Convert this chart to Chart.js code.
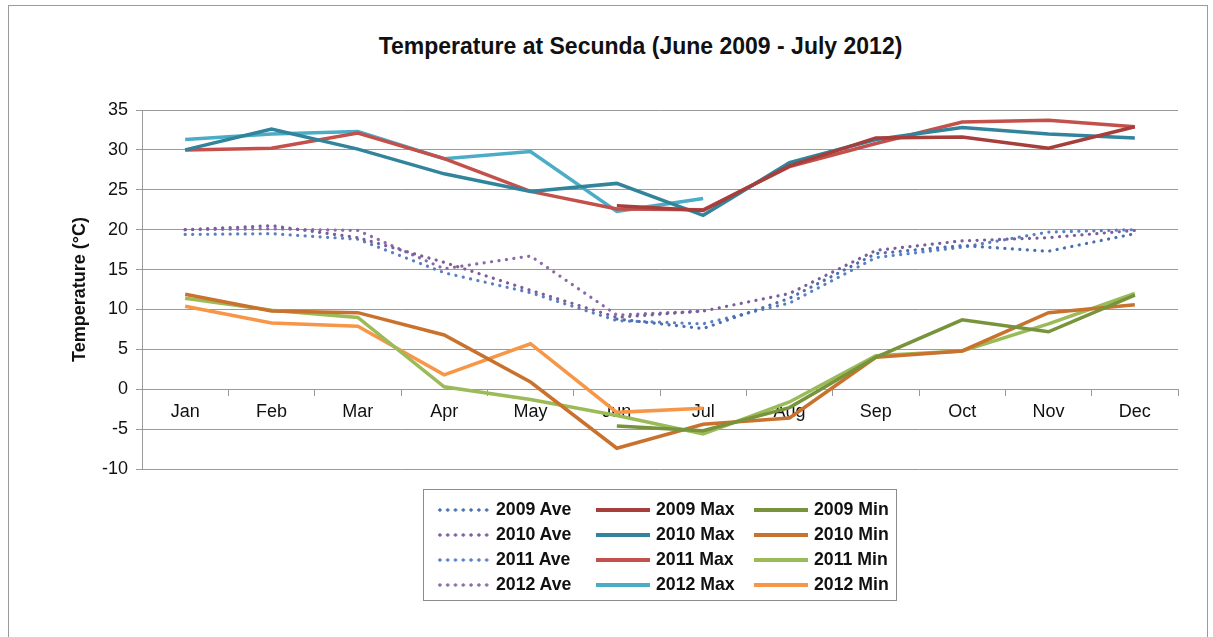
<!DOCTYPE html>
<html>
<head>
<meta charset="utf-8">
<title>Temperature at Secunda</title>
<script src="https://cdn.jsdelivr.net/npm/chart.js@4.4.1/dist/chart.umd.min.js"></script>
<style>
  html, body { margin: 0; padding: 0; background: #fff; }
  body { width: 1213px; height: 637px; position: relative; overflow: hidden; font-family: "Liberation Sans", Arial, sans-serif; }
  #frame { position: absolute; left: 8px; top: 5px; width: 1198px; height: 700px; border: 1px solid #9a9a9a; }
  #title { position: absolute; left: 0; width: 1281px; top: 33px; text-align: center; font-weight: bold; font-size: 23px; color: #111; }
  #chart { position: absolute; left: 0; top: 0; }
  #legend { position: absolute; left: 423px; top: 489px; width: 474px; height: 112px; border: 1px solid #8c8c8c; box-sizing: border-box; }
  .item { position: absolute; height: 25px; display: flex; align-items: center; font-weight: bold; font-size: 17.7px; color: #111; white-space: nowrap; }
  .sample { width: 54px; height: 4px; margin-right: 6px; }
</style>
</head>
<body>
<div id="frame"></div>
<div id="title">Temperature at Secunda (June 2009 - July 2012)</div>
<canvas id="chart" width="1213" height="637"></canvas>
<div id="legend"></div>

<script>
// ----- Data -----
const months = ['Jan','Feb','Mar','Apr','May','Jun','Jul','Aug','Sep','Oct','Nov','Dec'];
const yTicks = { min: -10, max: 35, step: 5 };

const ave2009 = [null, null, null, null, null, 8.8, 7.6, 11.4, 17.0, 18.0, 17.3, 19.5];
const ave2010 = [20.0, 20.5, 19.0, 15.9, 12.4, 9.0, 9.8, 12.0, 17.4, 18.6, 19.0, 19.9];
const ave2011 = [19.4, 19.5, 18.8, 14.6, 12.1, 8.6, 8.2, 10.8, 16.5, 17.8, 19.7, 20.0];
const ave2012 = [20.0, 20.1, 19.9, 15.1, 16.7, 9.3, 9.8, null, null, null, null, null];

const max2009 = [null, null, null, null, null, 23.0, 22.4, 28.0, 31.5, 31.6, 30.2, 32.9];
const max2010 = [30.0, 32.6, 30.1, 27.0, 24.8, 25.8, 21.8, 28.4, 31.3, 32.8, 32.0, 31.5];
const max2011 = [30.0, 30.2, 32.1, 28.9, 24.8, 22.6, 22.5, 27.9, 30.8, 33.5, 33.7, 32.9];
const max2012 = [31.3, 32.0, 32.3, 28.9, 29.8, 22.3, 23.9, null, null, null, null, null];

const min2009 = [null, null, null, null, null, -4.6, -5.2, -2.3, 4.0, 8.7, 7.2, 11.8];
const min2010 = [11.9, 9.8, 9.6, 6.8, 0.9, -7.4, -4.4, -3.6, 4.0, 4.8, 9.6, 10.6];
const min2011 = [11.4, 9.9, 9.0, 0.3, -1.3, -3.3, -5.6, -1.6, 4.2, 4.8, 8.2, 12.0];
const min2012 = [10.4, 8.3, 7.9, 1.8, 5.7, -2.9, -2.4, null, null, null, null, null];

// ----- Series styles -----
const colors = {
  ave09: '#4a6fae', ave10: '#7a5e9c', ave11: '#5a80c4', ave12: '#8a6aa8',
  max09: '#a63e3b', max10: '#31849b', max11: '#c4504c', max12: '#4bacc6',
  min09: '#77933c', min10: '#c9722e', min11: '#9bbb59', min12: '#f79646',
};

function aveSet(label, data, color) {
  return { label, data, borderColor: color, backgroundColor: color, borderWidth: 3.2,
    borderDash: [0.1, 7.4], borderCapStyle: 'round', dotted: true };
}
function lineSet(label, data, color) {
  return { label, data, borderColor: color, backgroundColor: color, borderWidth: 3.5 };
}

// legend order is row by row: Ave, Max, Min
const datasets = [
  aveSet('2009 Ave', ave2009, colors.ave09), lineSet('2009 Max', max2009, colors.max09), lineSet('2009 Min', min2009, colors.min09),
  aveSet('2010 Ave', ave2010, colors.ave10), lineSet('2010 Max', max2010, colors.max10), lineSet('2010 Min', min2010, colors.min10),
  aveSet('2011 Ave', ave2011, colors.ave11), lineSet('2011 Max', max2011, colors.max11), lineSet('2011 Min', min2011, colors.min11),
  aveSet('2012 Ave', ave2012, colors.ave12), lineSet('2012 Max', max2012, colors.max12), lineSet('2012 Min', min2012, colors.min12),
];

const gridGray = '#9a9a9a';

new Chart(document.getElementById('chart'), {
  type: 'line',
  data: { labels: months, datasets },
  options: {
    responsive: false,
    animation: false,
    events: [],
    elements: { point: { radius: 0 }, line: { tension: 0 } },
    layout: { padding: { left: 64, top: 110, right: 35, bottom: 168 } },
    plugins: { legend: { display: false }, title: { display: false }, tooltip: { enabled: false } },
    scales: {
      x: {
        position: { y: 0 },
        offset: true,
        grid: { offset: true, drawOnChartArea: false, drawTicks: true, tickLength: 6, color: gridGray },
        border: { color: gridGray },
        ticks: { color: '#111', padding: 6, maxRotation: 0, font: { family: 'Liberation Sans', size: 18 } },
      },
      y: {
        min: yTicks.min, max: yTicks.max,
        afterFit: s => { s.width = 78; },
        grid: { color: gridGray, tickLength: 6 },
        border: { color: gridGray },
        ticks: { stepSize: yTicks.step, color: '#111', padding: 8, font: { family: 'Liberation Sans', size: 18 } },
        title: { display: true, text: 'Temperature (°C)', color: '#111', padding: { top: 5, bottom: 4 },
          font: { family: 'Liberation Sans', size: 18, weight: 'bold' } },
      },
    },
  },
});

// ----- Legend (3 columns x 4 rows) -----
const legend = document.getElementById('legend');
const colX = [12, 172, 330];
datasets.forEach((d, i) => {
  const el = document.createElement('div');
  el.className = 'item';
  el.style.left = colX[i % 3] + 'px';
  el.style.top = (7 + Math.floor(i / 3) * 25) + 'px';
  const s = document.createElement('span');
  s.className = 'sample';
  if (d.dotted) {
    s.style.background = `radial-gradient(circle, ${d.borderColor} 1.4px, transparent 1.9px) 0 0 / 7.8px 4px repeat-x`;
  } else {
    s.style.background = d.borderColor;
  }
  el.appendChild(s);
  el.appendChild(document.createTextNode(d.label));
  legend.appendChild(el);
});
</script>
</body>
</html>
